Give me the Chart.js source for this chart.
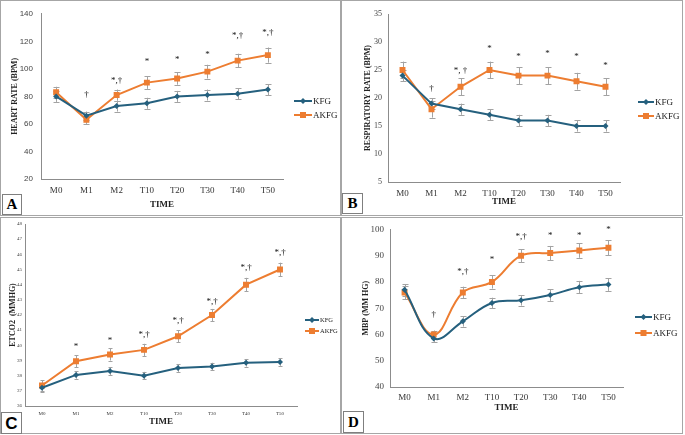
<!DOCTYPE html>
<html><head><meta charset="utf-8">
<script src="https://cdn.jsdelivr.net/npm/chart.js@4.4.0/dist/chart.umd.min.js"></script>
<style>
html,body{margin:0;padding:0;background:#fff;width:685px;height:435px;overflow:hidden}
.panel{position:absolute;box-sizing:border-box;border:1px solid #a6a6a6;background:#fff}
.panel canvas{position:absolute;left:0;top:0}
.tag{position:absolute;box-sizing:border-box;border:1px solid #7f7f7f;background:#fff;font:bold 15px "Liberation Serif";text-align:center;color:#000;line-height:19px}
</style></head><body>
<div class="panel" style="left:0;top:0;width:341px;height:216px"><canvas id="cA" width="339" height="214"></canvas></div>
<div class="panel" style="left:341px;top:0;width:342px;height:216px"><canvas id="cB" width="340" height="214"></canvas></div>
<div class="panel" style="left:0;top:217px;width:341px;height:217px"><canvas id="cC" width="339" height="215"></canvas></div>
<div class="panel" style="left:341px;top:217px;width:342px;height:217px"><canvas id="cD" width="340" height="215"></canvas></div>
<div class="tag" style="left:2px;top:194px;width:20px;height:21px">A</div>
<div class="tag" style="left:342px;top:193px;width:21px;height:21px">B</div>
<div class="tag" style="left:1px;top:412px;width:21px;height:22px;font:bold 17px 'Liberation Sans';line-height:21px">C</div>
<div class="tag" style="left:343px;top:411px;width:21px;height:22px;line-height:21px">D</div>
<script>
// ---------- data ----------
const categories = ['M0','M1','M2','T10','T20','T30','T40','T50'];
const seriesNames = ['KFG','AKFG'];

const hrKFG = [80, 66, 73, 75, 80, 81, 82, 85];
const hrKFGErr = [4, 3, 4, 4, 4, 4, 4, 4];
const hrAKFG = [83, 63, 81, 90, 93, 98, 106, 110];
const hrAKFGErr = [4, 3, 4, 4.5, 4.5, 5, 5, 5.5];
const hrNotes = ['', '†', '*,†', '*', '*', '*', '*,†', '*,†'];
const hrNoteAt = [null, 81.4, 91.4, 105, 106.4, 110, 124.3, 126.4];
const hrTicks = [20, 140, 20];

const rrKFG = [24, 19, 18, 17, 16, 16, 15, 15];
const rrKFGErr = [1, 1, 1, 1, 1, 1, 1, 1];
const rrAKFG = [25, 18, 22, 25, 24, 24, 23, 22];
const rrAKFGErr = [1.5, 1.5, 1.5, 1.5, 1.5, 1.5, 1.5, 1.5];
const rrNotes = ['', '†', '*, †', '*', '*', '*', '*', '*'];
const rrNoteAt = [null, 21.6, 24.8, 28.75, 27.3, 28, 27.3, 25.7];
const rrTicks = [5, 35, 5];

const etKFG = [37.2, 38.05, 38.3, 38.0, 38.5, 38.6, 38.85, 38.9];
const etKFGErr = [0.25, 0.25, 0.25, 0.25, 0.25, 0.25, 0.25, 0.25];
const etAKFG = [37.35, 38.95, 39.4, 39.7, 40.6, 42.0, 44.0, 45.0];
const etAKFGErr = [0.35, 0.4, 0.4, 0.4, 0.4, 0.4, 0.45, 0.45];
const etNotes = ['', '*', '*', '*,†', '*,†', '*,†', '*,†', '*,†'];
const etNoteAt = [null, 39.9, 40.3, 40.7, 41.6, 42.9, 45.1, 46.1];
const etTicks = [36, 48, 1];

const mbKFG = [77, 58.5, 65, 72, 73, 75, 78, 79];
const mbKFGErr = [2.2, 1.5, 2, 2, 2, 2.2, 2.4, 2.4];
const mbAKFG = [76, 60, 76, 80, 90, 91, 92, 93];
const mbAKFGErr = [2.5, 1.5, 2.2, 2.5, 2.5, 2.7, 2.8, 2.8];
const mbNotes = ['', '†', '*,†', '*', '*,†', '*', '*', '*'];
const mbNoteAt = [null, 67.6, 83.8, 88.5, 97.1, 97.7, 97.7, 99.9];
const mbTicks = [40, 100, 10];

// ---------- styling ----------
const BLUE = '#25607e', ORANGE = '#ed7d31', AXIS = '#8c8c8c', ERR = '#a3a3a3';
const SERIF = '"Liberation Serif", "DejaVu Serif", serif';
const SANS = '"Liberation Sans", Arial, sans-serif';

const errorBars = {
  id: 'errorBars',
  beforeDatasetsDraw(chart) {
    const ctx = chart.ctx, ys = chart.scales.y;
    ctx.save();
    ctx.strokeStyle = ERR; ctx.lineWidth = 1;
    chart.data.datasets.forEach((ds, di) => {
      const meta = chart.getDatasetMeta(di);
      meta.data.forEach((pt, i) => {
        const e = ds.errors[i];
        const y1 = ys.getPixelForValue(ds.data[i] + e), y2 = ys.getPixelForValue(ds.data[i] - e);
        const x = Math.round(pt.x) + 0.5, c = chart.options.plugins.errorBars.cap;
        ctx.beginPath();
        ctx.moveTo(x, y1); ctx.lineTo(x, y2);
        ctx.moveTo(x - c, Math.round(y1) + 0.5); ctx.lineTo(x + c, Math.round(y1) + 0.5);
        ctx.moveTo(x - c, Math.round(y2) + 0.5); ctx.lineTo(x + c, Math.round(y2) + 0.5);
        ctx.stroke();
      });
    });
    ctx.restore();
  }
};

const notes = {
  id: 'notes',
  afterDatasetsDraw(chart, args, opts) {
    const ctx = chart.ctx, xs = chart.scales.x, ys = chart.scales.y;
    ctx.save();
    ctx.fillStyle = '#111';
    ctx.font = opts.font;
    ctx.textAlign = 'center'; ctx.textBaseline = 'middle';
    opts.labels.forEach((t, i) => {
      if (!t) return;
      ctx.fillText(t, xs.getPixelForValue(i), ys.getPixelForValue(opts.at[i]));
    });
    ctx.restore();
  }
};

const sideLegend = {
  id: 'sideLegend',
  afterDraw(chart, args, opts) {
    const ctx = chart.ctx;
    ctx.save();
    chart.data.datasets.forEach((ds, i) => {
      const y = opts.y[i], x0 = opts.x0, x1 = opts.x1;
      ctx.strokeStyle = ds.borderColor; ctx.lineWidth = 2;
      ctx.beginPath(); ctx.moveTo(x0, y); ctx.lineTo(x1, y); ctx.stroke();
      const xm = (x0 + x1) / 2;
      ctx.fillStyle = ds.borderColor;
      if (ds.pointStyle === 'rect') {
        ctx.fillRect(xm - 3, y - 3, 6, 6);
      } else {
        ctx.beginPath(); ctx.moveTo(xm, y - 3); ctx.lineTo(xm + 3, y); ctx.lineTo(xm, y + 3); ctx.lineTo(xm - 3, y); ctx.closePath(); ctx.fill();
      }
      ctx.fillStyle = '#222'; ctx.font = opts.font; ctx.textAlign = 'left'; ctx.textBaseline = 'middle';
      ctx.fillText(ds.label, x1 + 1, y + 0.5);
    });
    ctx.restore();
  }
};

function makeChart(id, cfg) {
  const ds = (label, data, err, color, style, r) => ({
    label, data, errors: err, borderColor: color, backgroundColor: color,
    borderWidth: 2, pointStyle: style, pointRadius: r, pointHoverRadius: r,
    pointBorderWidth: 0, tension: cfg.tension || 0, fill: false
  });
  return new Chart(document.getElementById(id), {
    type: 'line',
    data: {
      labels: categories,
      datasets: [
        ds(seriesNames[0], cfg.kfg, cfg.kfgErr, BLUE, 'rectRot', 3),
        ds(seriesNames[1], cfg.akfg, cfg.akfgErr, ORANGE, 'rect', 4.2)
      ]
    },
    options: {
      responsive: false, animation: false, devicePixelRatio: 1,
      layout: { padding: { left: 0, top: cfg.top, right: cfg.right, bottom: 0 } },
      plugins: {
        legend: { display: false }, tooltip: { enabled: false },
        errorBars: { cap: cfg.cap || 2.5 },
        notes: { labels: cfg.notes, at: cfg.noteAt, font: '9px ' + SERIF },
        sideLegend: { x0: cfg.leg[0], x1: cfg.leg[1], y: cfg.leg.slice(2), font: cfg.legFont || ('9px ' + SERIF) }
      },
      scales: {
        x: {
          offset: true,
          grid: { display: false, drawTicks: false },
          border: { display: true, color: AXIS, width: 1 },
          ticks: { color: '#333', padding: cfg.xPad, font: { family: SERIF, size: cfg.xSize }, maxRotation: 0, autoSkip: false },
          title: { display: true, text: 'TIME', color: '#222', font: { family: SERIF, size: 9, weight: 'bold' }, padding: { top: 0, bottom: cfg.timePad } },
          afterFit: s => { s.height = cfg.xH; }
        },
        y: {
          min: cfg.ticks[0], max: cfg.ticks[1],
          grid: { display: false, drawTicks: false },
          border: { display: true, color: AXIS, width: 1 },
          ticks: { stepSize: cfg.ticks[2], color: '#444', padding: cfg.yPad, font: { family: cfg.yFam, size: cfg.ySize } },
          title: { display: true, text: cfg.yTitle, color: '#222', font: { family: SERIF, size: cfg.tSize || 8, weight: 'bold' }, padding: { top: cfg.titlePad, bottom: 0 } },
          afterFit: s => { s.width = cfg.left; }
        }
      }
    },
    plugins: [errorBars, notes, sideLegend]
  });
}

makeChart('cA', {
  kfg: hrKFG, kfgErr: hrKFGErr, akfg: hrAKFG, akfgErr: hrAKFGErr, notes: hrNotes, noteAt: hrNoteAt, ticks: hrTicks,
  yTitle: 'HEART RATE (BPM)', left: 40, top: 10, right: 57, xH: 36,
  xPad: 6, xSize: 9, yPad: 8, ySize: 8, yFam: SANS, titlePad: 9.2, timePad: 4.6,
  leg: [293, 311, 100, 114], cap: 3
});
makeChart('cB', {
  kfg: rrKFG, kfgErr: rrKFGErr, akfg: rrAKFG, akfgErr: rrAKFGErr, notes: rrNotes, noteAt: rrNoteAt, ticks: rrTicks,
  yTitle: 'RESPIRATORY RATE (BPM)', left: 46, top: 13, right: 62, xH: 33,
  xPad: 6, xSize: 9, yPad: 6, ySize: 8, yFam: SERIF, titlePad: 21.2, timePad: 7.6,
  leg: [296, 312, 101, 115], cap: 3
});
makeChart('cC', {
  kfg: etKFG, kfgErr: etKFGErr, akfg: etAKFG, akfgErr: etAKFGErr, notes: etNotes, noteAt: etNoteAt, ticks: etTicks,
  yTitle: 'ETCO2  (MMHG)', left: 24, top: 6, right: 43, xH: 27,
  xPad: 4.5, xSize: 5, yPad: 3, ySize: 5, yFam: SERIF, titlePad: 6.8, timePad: 5.6,
  leg: [304, 318, 102, 113], cap: 2, legFont: '6.5px ' + SERIF
});
makeChart('cD', {
  kfg: mbKFG, kfgErr: mbKFGErr, akfg: mbAKFG, akfgErr: mbAKFGErr, notes: mbNotes, noteAt: mbNoteAt, ticks: mbTicks,
  yTitle: 'MBP (MM HG)', left: 48, top: 11, right: 59, xH: 46,
  xPad: 5.5, xSize: 9, yPad: 6, ySize: 9, yFam: SERIF, titlePad: 19.2, timePad: 19.6,
  leg: [293, 310, 99, 115], cap: 3, tension: 0.4
});
</script>
</body></html>
